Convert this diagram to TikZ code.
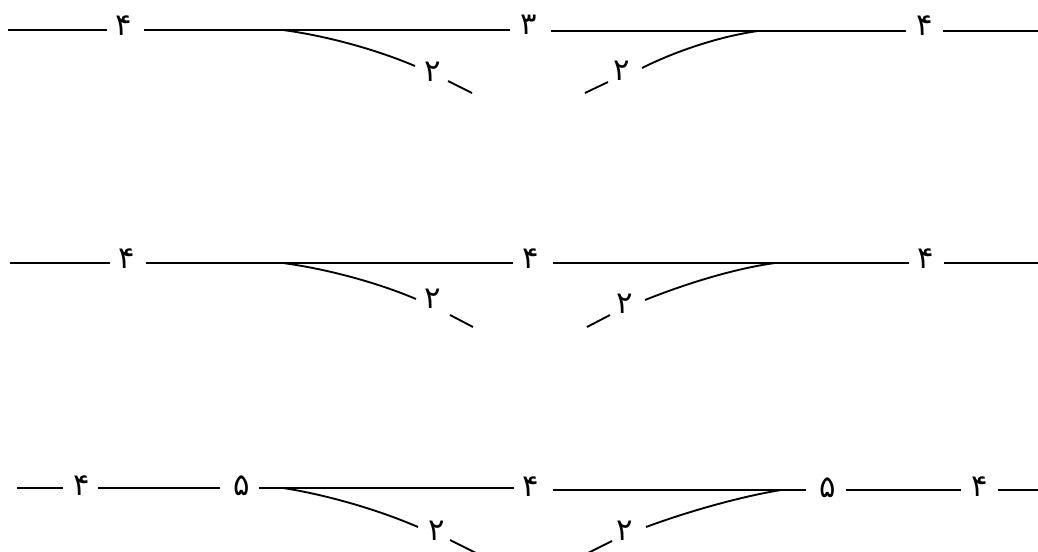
\documentclass[tikz,border=0pt]{standalone}
\usepackage{fontspec}
\newfontfamily\fa[Script=Arabic]{DejaVu Sans}
\begin{document}
\begin{tikzpicture}[x=0.75pt,y=-0.75pt,
  track/.style={line width=1.4pt},
  num/.style={font=\fa\fontsize{23}{23}\selectfont, inner sep=0pt}]
\useasboundingbox (0,0) rectangle (1038,552);
% ---------- Row 1 ----------
\node[num] (r1a) at (124,26) {۴};
\node[num] (r1b) at (529,25) {۳};
\node[num] (r1c) at (925,26) {۴};
\node[num] (r1d) at (433,72) {۲};
\node[num] (r1e) at (622,71) {۲};
\coordinate (r1p0) at (8,30);   \coordinate (r1p1) at (107,30);
\coordinate (r1p2) at (144,30); \coordinate (r1p3) at (510,30);
\coordinate (r1p4) at (551,31); \coordinate (r1p5) at (906,31);
\coordinate (r1p6) at (943,31); \coordinate (r1p7) at (1038,31);
\coordinate (r1s1) at (283,30); \coordinate (r1b1) at (415,66);
\coordinate (r1t1) at (448,81); \coordinate (r1u1) at (472,93);
\coordinate (r1s2) at (758,31); \coordinate (r1b2) at (642,68);
\coordinate (r1t2) at (608,82); \coordinate (r1u2) at (585,93);
\draw[track] (r1p0) -- (r1p1);
\draw[track] (r1p2) -- (r1p3);
\draw[track] (r1p4) -- (r1p5);
\draw[track] (r1p6) -- (r1p7);
\draw[track] (r1s1) .. controls (320,35) and (370,47) .. (r1b1);
\draw[track] (r1t1) -- (r1u1);
\draw[track] (r1s2) .. controls (722,36) and (678,50) .. (r1b2);
\draw[track] (r1t2) -- (r1u2);
% ---------- Row 2 ----------
\node[num] (r2a) at (127,259) {۴};
\node[num] (r2b) at (531,259) {۴};
\node[num] (r2c) at (926,259) {۴};
\node[num] (r2d) at (433,299) {۲};
\node[num] (r2e) at (625,304) {۲};
\coordinate (r2p0) at (10,263);  \coordinate (r2p1) at (110,263);
\coordinate (r2p2) at (146,263); \coordinate (r2p3) at (513,263);
\coordinate (r2p4) at (553,263); \coordinate (r2p5) at (909,263);
\coordinate (r2p6) at (944,263); \coordinate (r2p7) at (1038,263);
\coordinate (r2s1) at (283,263); \coordinate (r2b1) at (416,299);
\coordinate (r2t1) at (450,315); \coordinate (r2u1) at (473,327);
\coordinate (r2s2) at (775,263); \coordinate (r2b2) at (645,300);
\coordinate (r2t2) at (610,315); \coordinate (r2u2) at (587,327);
\draw[track] (r2p0) -- (r2p1);
\draw[track] (r2p2) -- (r2p3);
\draw[track] (r2p4) -- (r2p5);
\draw[track] (r2p6) -- (r2p7);
\draw[track] (r2s1) .. controls (320,268) and (371,280) .. (r2b1);
\draw[track] (r2t1) -- (r2u1);
\draw[track] (r2s2) .. controls (738,268) and (690,282) .. (r2b2);
\draw[track] (r2t2) -- (r2u2);
% ---------- Row 3 ----------
\node[num] (r3a) at (82,486) {۴};
\node[num] (r3b) at (242,486) {۵};
\node[num] (r3c) at (531,487) {۴};
\node[num] (r3d) at (828,488) {۵};
\node[num] (r3e) at (980,487) {۴};
\node[num] (r3f) at (437,531) {۲};
\node[num] (r3g) at (625,531) {۲};
\coordinate (r3p0) at (17,488);  \coordinate (r3p1) at (63,488);
\coordinate (r3p2) at (98,488);  \coordinate (r3p3) at (220,488);
\coordinate (r3p4) at (259,488); \coordinate (r3p5) at (514,488);
\coordinate (r3p6) at (553,490); \coordinate (r3p7) at (806,490);
\coordinate (r3p8) at (846,490); \coordinate (r3p9) at (961,490);
\coordinate (r3pa) at (998,490); \coordinate (r3pb) at (1038,490);
\coordinate (r3s1) at (283,488); \coordinate (r3b1) at (418,527);
\coordinate (r3t1) at (450,540); \coordinate (r3u1) at (476,553);
\coordinate (r3s2) at (781,490); \coordinate (r3b2) at (646,527);
\coordinate (r3t2) at (612,541); \coordinate (r3u2) at (588,553);
\draw[track] (r3p0) -- (r3p1);
\draw[track] (r3p2) -- (r3p3);
\draw[track] (r3p4) -- (r3p5);
\draw[track] (r3p6) -- (r3p7);
\draw[track] (r3p8) -- (r3p9);
\draw[track] (r3pa) -- (r3pb);
\draw[track] (r3s1) .. controls (322,494) and (374,508) .. (r3b1);
\draw[track] (r3t1) -- (r3u1);
\draw[track] (r3s2) .. controls (744,496) and (692,510) .. (r3b2);
\draw[track] (r3t2) -- (r3u2);
\end{tikzpicture}
\end{document}
